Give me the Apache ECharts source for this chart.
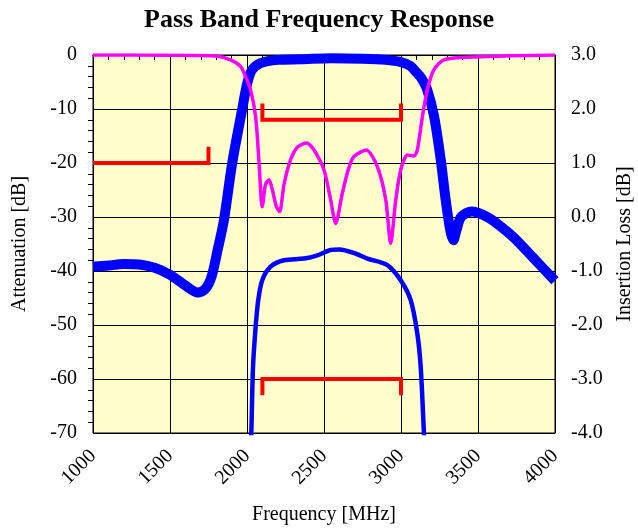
<!DOCTYPE html>
<html>
<head>
<meta charset="utf-8">
<script src="https://cdn.jsdelivr.net/npm/echarts@6/dist/echarts.min.js"></script>
<style>html,body{margin:0;padding:0;background:#fff}#c{width:638px;height:530px}</style>
</head>
<body>
<div id="c"></div>
<script>
// Attenuation (thick blue), left axis [dB]
const attFreq = [1000,1100,1200,1300,1400,1500,1600,1680,1730,1770,1810,1850,1904,1969,2002,2034,2088,2200,2350,2550,2750,2900,3000,3060,3100,3130,3170,3215,3258,3290,3320,3340,3360,3390,3460,3560,3650,3740,3860,4000];
const attVal  = [-39.2,-39.0,-38.7,-38.8,-39.4,-40.7,-42.7,-44.0,-43.3,-41.0,-36.0,-30.6,-20,-10,-5.2,-2.7,-1.5,-0.9,-0.8,-0.6,-0.7,-0.9,-1.3,-2.0,-3.2,-4.2,-6.4,-11.4,-19.4,-26.8,-32.5,-34.3,-32.5,-30.0,-29.0,-30.0,-31.8,-34.0,-37.6,-41.8];

// Return loss (magenta), left axis [dB]
const rlFreq = [1000,1500,1800,1893,1958,1991,2023,2056,2077,2099,2120,2143,2165,2190,2212,2240,2283,2330,2387,2435,2500,2543,2576,2619,2660,2695,2775,2847,2901,2933,2966,2998,3042,3084,3106,3139,3171,3214,3279,3431,3700,4000];
const rlVal  = [0,-0.05,-0.2,-0.9,-2.1,-4,-6.4,-11.4,-19.4,-28.1,-24,-23.1,-25,-28,-29.0,-24,-19.4,-17,-16.3,-17.6,-21.3,-26.8,-31.2,-25.6,-21,-18.8,-17.6,-20.7,-26.8,-34.9,-26.8,-21.3,-18.5,-18.7,-17.6,-11.4,-6.4,-2.7,-0.9,-0.4,-0.15,0];

// Insertion loss (thin blue), right axis [dB]
const ilFreq = [2020,2028,2039,2056,2073,2099,2153,2240,2370,2457,2543,2600,2716,2781,2911,2998,3063,3106,3128,3149,3160];
const ilVal  = [-4.6,-4.0,-2.78,-2.04,-1.54,-1.17,-0.92,-0.80,-0.77,-0.71,-0.61,-0.60,-0.69,-0.77,-0.89,-1.17,-1.54,-2.16,-2.78,-4.0,-4.6];

// Spec masks (red)
const maskLowFreq = [1000,1750,1750];
const maskLowVal  = [-20,-20,-17];
const maskPassFreq = [2100,2100,3000,3000];
const maskPassVal  = [-9,-12,-12,-9];
const maskILFreq = [2100,2100,3000,3000];
const maskILVal  = [-3.3,-3.0,-3.0,-3.3];

const xTicks = [1000,1500,2000,2500,3000,3500,4000];

const zip = (a,b)=>a.map((v,i)=>[v,b[i]]);
const font = 'Liberation Serif, Times New Roman, serif';

const chart = echarts.init(document.getElementById('c'));
chart.setOption({
  animation:false,
  title:{text:'Pass Band Frequency Response',left:'center',top:2,
    textStyle:{fontFamily:font,fontSize:26,fontWeight:'bold',color:'#000'}},
  grid:{left:93,right:83,top:55,bottom:97,show:true,backgroundColor:'#FFFFCC',borderColor:'#000',borderWidth:1,outerBoundsMode:'none',containLabel:false},
  xAxis:{type:'value',min:xTicks[0],max:xTicks[xTicks.length-1],interval:500,
    name:'Frequency [MHz]',nameLocation:'middle',nameGap:72,
    nameTextStyle:{fontFamily:font,fontSize:20,color:'#000'},
    axisLine:{lineStyle:{color:'#000'}},
    axisTick:{show:false},
    minorTick:{show:true,splitNumber:5,length:5,lineStyle:{color:'#000'}},
    splitLine:{show:true,lineStyle:{color:'#000',width:1}},
    axisLabel:{rotate:45,margin:20,fontFamily:font,fontSize:20,color:'#000',formatter:v=>String(v)}},
  yAxis:[
    {type:'value',min:-70,max:0,interval:10,position:'left',
     name:'Attenuation [dB]',nameLocation:'middle',nameGap:63,
     nameTextStyle:{fontFamily:font,fontSize:20,color:'#000'},
     axisLine:{show:true,lineStyle:{color:'#000'}},
     axisTick:{show:false},
     minorTick:{show:true,splitNumber:5,length:5,lineStyle:{color:'#000'}},
     splitLine:{show:true,lineStyle:{color:'#000',width:1}},
     axisLabel:{margin:16,fontFamily:font,fontSize:20,color:'#000'}},
    {type:'value',min:-4,max:3,interval:1,position:'right',
     name:'Insertion Loss [dB]',nameLocation:'middle',nameGap:60,nameRotate:90,
     nameTextStyle:{fontFamily:font,fontSize:20,color:'#000'},
     axisLine:{show:true,lineStyle:{color:'#000'}},
     axisTick:{show:false},
     splitLine:{show:false},
     axisLabel:{margin:16,fontFamily:font,fontSize:20,color:'#000',formatter:v=>v.toFixed(1)}}
  ],
  series:[
    {type:'line',yAxisIndex:1,data:zip(ilFreq,ilVal),smooth:0.3,showSymbol:false,clip:true,
     lineStyle:{color:'#0000FF',width:4.5},z:3},
    {type:'line',yAxisIndex:0,data:zip(attFreq,attVal),smooth:0.3,showSymbol:false,clip:true,
     lineStyle:{color:'#0000FF',width:10},z:4},
    {type:'line',yAxisIndex:0,data:zip(rlFreq,rlVal),smooth:0.25,showSymbol:false,clip:true,
     lineStyle:{color:'#FF00FF',width:3.5},z:5},
    {type:'line',yAxisIndex:0,data:zip(maskLowFreq,maskLowVal),showSymbol:false,
     lineStyle:{color:'#FF0000',width:4,join:'miter'},z:6},
    {type:'line',yAxisIndex:0,data:zip(maskPassFreq,maskPassVal),showSymbol:false,
     lineStyle:{color:'#FF0000',width:4,join:'miter'},z:6},
    {type:'line',yAxisIndex:1,data:zip(maskILFreq,maskILVal),showSymbol:false,
     lineStyle:{color:'#FF0000',width:4,join:'miter'},z:6}
  ]
});
</script>
</body>
</html>
